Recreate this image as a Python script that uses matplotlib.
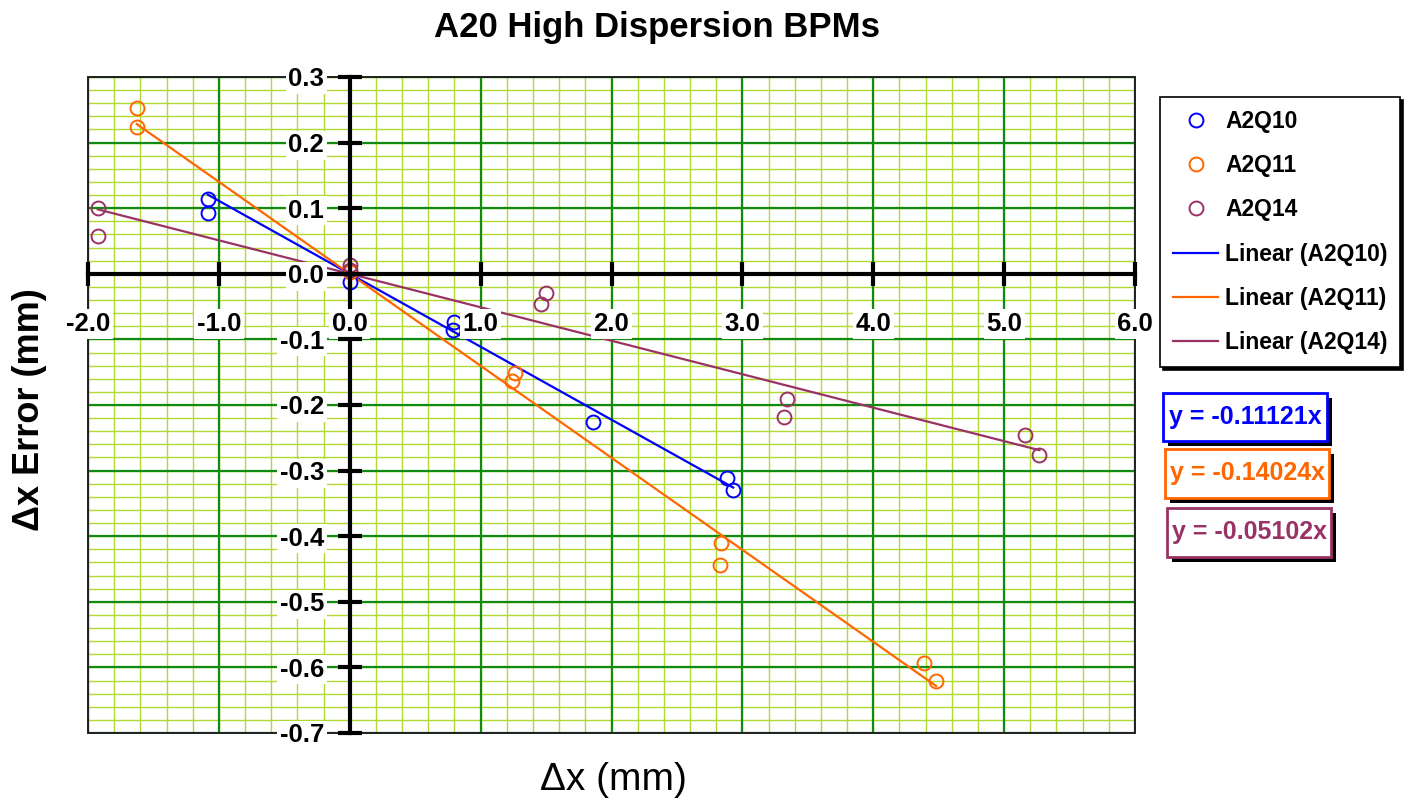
import matplotlib
matplotlib.use('Agg')
import matplotlib.pyplot as plt
import numpy as np
from matplotlib.patches import Rectangle

plt.rcParams['font.family'] = ['Liberation Sans', 'DejaVu Sans']

######## BPM readings (mm)
names = ['A2Q10', 'A2Q11', 'A2Q14']
colors = ['#0000FF', '#FF6600', '#993366']
slopes = [-0.11121, -0.14024, -0.05102]

x_q10 = [-1.085, -1.085, 0.0, 0.80, 0.79, 1.857, 2.88, 2.93]
y_q10 = [0.114, 0.093, -0.013, -0.073, -0.085, -0.226, -0.312, -0.329]

x_q11 = [-1.627, -1.627, 0.0, 1.26, 1.24, 2.84, 2.83, 4.385, 4.48]
y_q11 = [0.253, 0.224, 0.003, -0.151, -0.163, -0.410, -0.444, -0.593, -0.620]

x_q14 = [-1.925, -1.925, 0.0, 0.0, 1.46, 1.50, 3.34, 3.32, 5.16, 5.27]
y_q14 = [0.1006, 0.058, 0.014, 0.006, -0.046, -0.029, -0.191, -0.218, -0.246, -0.276]

xs_all = [x_q10, x_q11, x_q14]
ys_all = [y_q10, y_q11, y_q14]

x_ticks = [-2.0, -1.0, 0.0, 1.0, 2.0, 3.0, 4.0, 5.0, 6.0]
y_ticks = [-0.7, -0.6, -0.5, -0.4, -0.3, -0.2, -0.1, 0.0, 0.1, 0.2, 0.3]

######## figure + axes (pixel layout)
W, H = 1421, 802
fig = plt.figure(figsize=(W/100, H/100), dpi=100)
L, R, T, B = 88, 1135, 77, 733
ax = fig.add_axes([L/W, 1-B/H, (R-L)/W, (B-T)/H])
ax.set_xlim(-2, 6)
ax.set_ylim(-0.7, 0.3)
ax.set_facecolor('white')

# graph-paper grid
for v in np.arange(-2, 6.001, 0.2):
    ax.axvline(v, color='#B0DA30', lw=1.0, zorder=0.5)
for v in np.arange(-0.7, 0.3001, 0.02):
    ax.axhline(v, color='#B0DA30', lw=1.0, zorder=0.5)
for v in x_ticks:
    ax.axvline(v, color='#108A10', lw=1.6, zorder=0.6)
for v in y_ticks:
    ax.axhline(v, color='#108A10', lw=1.6, zorder=0.6)
ax.add_patch(Rectangle((0, 0), 1, 1, transform=ax.transAxes, fill=False,
                       ec='#202020', lw=1.4, zorder=0.7, clip_on=False))

# axes through the origin
for s in ['top', 'right']:
    ax.spines[s].set_visible(False)
ax.spines['left'].set_position(('data', 0))
ax.spines['bottom'].set_position(('data', 0))
for s in ['left', 'bottom']:
    ax.spines[s].set_linewidth(3)
    ax.spines[s].set_color('black')
ax.set_axisbelow(False)

lab_box = dict(facecolor='white', edgecolor='none', pad=1)
ax.set_xticks(x_ticks)
ax.set_xticklabels(['%.1f' % v for v in x_ticks], fontweight='bold', bbox=lab_box)
ax.set_yticks(y_ticks)
ax.set_yticklabels(['%.1f' % v for v in y_ticks], fontweight='bold', bbox=lab_box)
ax.tick_params(axis='x', direction='inout', length=17, width=3, labelsize=18.5, pad=19)
ax.tick_params(axis='y', direction='inout', length=17, width=3, labelsize=18.5, pad=10)

######## data + linear fits
pts, fits = [], []
for name, c, m, xs, ys in zip(names, colors, slopes, xs_all, ys_all):
    xf = np.array([min(xs), max(xs)])
    l, = ax.plot(xf, m*xf, color=c, lw=1.6, zorder=2, label='Linear (%s)' % name)
    p, = ax.plot(xs, ys, 'o', mfc='none', mec=c, ms=10, mew=1.4, zorder=2.1, label=name)
    pts.append(p)
    fits.append(l)

######## titles
fig.text(657/W, 1-28/H, 'A20 High Dispersion BPMs', ha='center', va='center',
         fontsize=25, fontweight='bold')
fig.text(30/W, 1-410/H, 'Δx Error (mm)', ha='center', va='center', rotation=90,
         fontsize=26, fontweight='bold')
fig.text(613/W, 1-780/H, 'Δx (mm)', ha='center', va='center', fontsize=28)

######## legend
leg = fig.legend(pts + fits, [h.get_label() for h in pts + fits], loc='upper left',
                 bbox_to_anchor=(1160/W, 1-97/H), borderaxespad=0, frameon=True,
                 fancybox=False, edgecolor='black', framealpha=1,
                 shadow={'color': 'black', 'alpha': 1},
                 prop={'weight': 'bold', 'size': 16.5}, handlelength=2.0,
                 handletextpad=0.3, labelspacing=0.93, borderpad=0.55, numpoints=1)
leg.get_frame().set_linewidth(1.2)

######## slope boxes
boxes = [(1163, 393, 1327, 441), (1165, 449, 1329, 498), (1167, 508, 1331, 557)]
for (x0, y0, x1, y1), c, m in zip(boxes, colors, slopes):
    fig.patches.append(Rectangle((x0+5, H-y1-5), x1-x0, y1-y0, transform=None,
                                 fc='black', ec='none', zorder=1))
    fig.patches.append(Rectangle((x0, H-y1), x1-x0, y1-y0, transform=None,
                                 fc='white', ec=c, lw=2, zorder=2))
    fig.text((x0+x1)/2/W, 1-(y0+y1)/2/H, 'y = %.5fx' % m, ha='center', va='center',
             color=c, fontsize=18, fontweight='bold', zorder=3)

fig.savefig('out.png', dpi=100)
